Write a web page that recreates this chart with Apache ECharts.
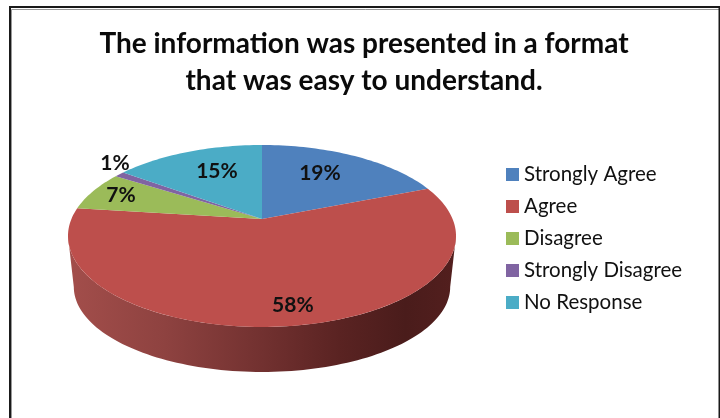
<!DOCTYPE html>
<html>
<head>
<meta charset="utf-8">
<style>
  html, body { margin: 0; padding: 0; background: #fff; }
  #chart { width: 720px; height: 418px; }
</style>
<script src="https://cdn.jsdelivr.net/npm/echarts@6/dist/echarts.min.js"></script>
</head>
<body>
<div id="chart"></div>
<script>
const categories = ['Strongly Agree', 'Agree', 'Disagree', 'Strongly Disagree', 'No Response']
const percents = [19, 58, 7, 1, 15]
const colors = ['#4f81bd', '#bd4f4c', '#9bbb59', '#8064a2', '#4bacc6']

// [radius fraction, angle shift in degrees] of each percent label
const labelSpots = [[0.672, -4.1], [0.839, -2.2], [0.831, 0.5], [1.136, 5.4], [0.663, 3.6]]

// the pie disc in perspective, excel style: the apex is not the ellipse centre
const cx = 262
const apexY = 219
const radiusX = 190.6
const radiusY = 87.8
const tilt = 0.1867
const depthY = 52
const bottomScaleX = 0.97
const bottomScaleY = 0.935

const total = percents.reduce((a, b) => a + b, 0)
const startAngles = percents.map((_, i) => percents.slice(0, i).reduce((a, b) => a + b, 0) / total * 360)

// angles where the disc is widest, the wall only shows between them
const wallFrom = Math.acos(-tilt) * 180 / Math.PI
const wallTo = 360 - wallFrom

function project(deg, f) {
  const a = deg * Math.PI / 180
  const u = Math.sin(a) * f
  const v = Math.cos(a) * f
  const d = 1 + tilt * v
  return [cx + radiusX * u / d, apexY - radiusY * v / d]
}

function projectBottom(deg) {
  const p = project(deg, 1)
  return [cx + (p[0] - cx) * bottomScaleX, apexY + depthY + (p[1] - apexY) * bottomScaleY]
}

function renderWall(params, api) {
  const i = api.value(0)
  const start = Math.max(startAngles[i], wallFrom)
  const end = Math.min(startAngles[i] + percents[i] / total * 360, wallTo)
  if (end <= start) return { type: 'group', children: [] }
  const upper = []
  const lower = []
  const steps = Math.ceil((end - start) / 1.5)
  for (let s = 0; s <= steps; s++) {
    const a = start + (end - start) * s / steps
    upper.push(project(a, 1))
    lower.unshift(projectBottom(a))
  }
  return {
    type: 'polygon',
    shape: { points: upper.concat(lower) },
    style: {
      fill: new echarts.graphic.LinearGradient(68, 0, 456, 0, [
        { offset: 0, color: '#a34e4b' },
        { offset: 0.25, color: '#8e4240' },
        { offset: 0.5, color: '#723130' },
        { offset: 0.7, color: '#5a2322' },
        { offset: 0.87, color: '#4a1c1b' },
        { offset: 1, color: '#531f1e' }
      ], true)
    }
  }
}

function renderTop(params, api) {
  const i = api.value(0)
  const start = startAngles[i]
  const end = start + percents[i] / total * 360
  const pts = [project(0, 0)]
  const steps = Math.ceil((end - start) / 1.5)
  for (let s = 0; s <= steps; s++) {
    pts.push(project(start + (end - start) * s / steps, 1))
  }
  const spot = labelSpots[i]
  const at = project((start + end) / 2 + spot[1], spot[0])
  return {
    type: 'group',
    children: [{
      type: 'polygon',
      shape: { points: pts },
      style: { fill: colors[i] }
    }, {
      type: 'text',
      z2: 10,
      style: {
        text: percents[i] + '%',
        x: at[0],
        y: at[1],
        align: 'center',
        verticalAlign: 'middle',
        fill: '#111',
        font: 'bold 21px Lato'
      }
    }]
  }
}

const chart = echarts.init(document.getElementById('chart'), null, { renderer: 'canvas' })

const topSeries = categories.map((name, i) => ({
  name,
  type: 'custom',
  coordinateSystem: 'none',
  silent: true,
  animation: false,
  z: 3,
  itemStyle: { color: colors[i] },
  renderItem: renderTop,
  data: [[i, percents[i]]]
}))

const wallSeries = {
  name: 'wall',
  type: 'custom',
  coordinateSystem: 'none',
  silent: true,
  animation: false,
  z: 2,
  renderItem: renderWall,
  data: percents.map((v, i) => [i, v])
}

chart.setOption({
  backgroundColor: '#fff',
  animation: false,
  title: {
    text: 'The information was presented in a format\nthat was easy to understand.',
    left: 359,
    top: 20,
    textAlign: 'center',
    textStyle: { fontFamily: 'Lato', fontWeight: 'bold', fontSize: 28, lineHeight: 37, color: '#0a0a0a' }
  },
  legend: {
    data: categories,
    orient: 'vertical',
    left: 501,
    top: 159,
    itemWidth: 13,
    itemHeight: 13,
    itemGap: 11,
    icon: 'rect',
    selectedMode: false,
    textStyle: { fontFamily: 'Lato', fontSize: 20.5, lineHeight: 20, color: '#111' }
  },
  graphic: [{
    type: 'polyline',
    shape: { points: [[11.5, 418], [11.5, 9.5], [719, 9.5]] },
    style: { stroke: '#999', lineWidth: 1, fill: null }
  }, {
    type: 'polyline',
    shape: { points: [[10, 418], [10, 7], [719.5, 7], [719.5, 418]] },
    style: { stroke: '#1a1a1a', lineWidth: 2, fill: null }
  }],
  series: [wallSeries].concat(topSeries)
})
</script>
</body>
</html>
